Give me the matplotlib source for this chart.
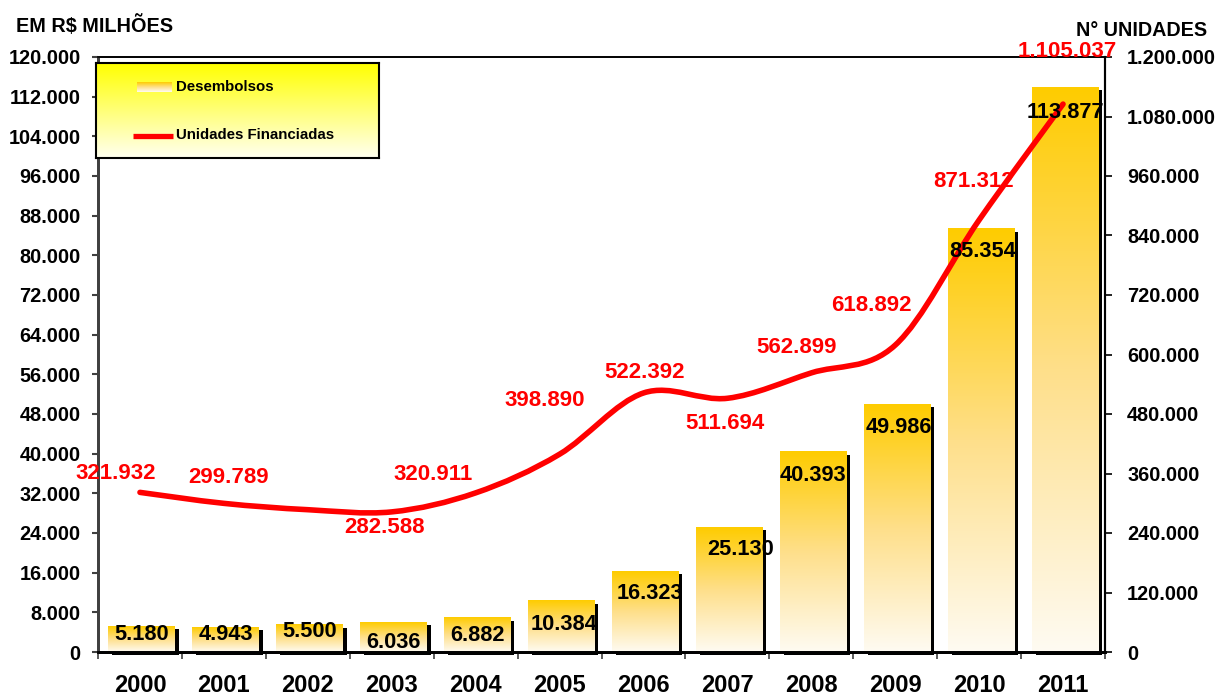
import numpy as np
import matplotlib
matplotlib.use('Agg')
import matplotlib.pyplot as plt
import matplotlib.transforms as mtransforms
from matplotlib.colors import LinearSegmentedColormap
from matplotlib.patches import Rectangle, PathPatch
from matplotlib.path import Path

plt.rcParams['font.family'] = ['Liberation Sans', 'DejaVu Sans']
plt.rcParams['font.weight'] = 'bold'

# dados
anos = ['2000', '2001', '2002', '2003', '2004', '2005',
        '2006', '2007', '2008', '2009', '2010', '2011']
desembolsos = [5180, 4943, 5500, 6036, 6882, 10384,
               16323, 25130, 40393, 49986, 85354, 113877]
unidades = [321932, 299789, 287000, 282588, 320911, 398890,
            522392, 511694, 562899, 618892, 871312, 1105037]
y_ticks_esq = list(range(0, 120001, 8000))
y_ticks_dir = list(range(0, 1200001, 120000))

# posicoes dos rotulos (pixels, relativos ao ponto / topo da barra)
bar_lbl_dx = [0, 0, 0, 0, 0, 3, 5, 12, 0, 2, 2, 1]
bar_lbl_dy = [-8, -7, -7, -20, -18, -24, -22, -22, -24, -23, -23, -25]
line_lbl_off = [(-24, 19), (5, 26), None, (-7, -16), (-43, 18), (-15, 54),
                (1, 20), (-2, -25), (-15, 25), (-24, 40), (-6, 38), (4, 53)]


def fmt(v):
    return f"{v:,}".replace(',', '.')


W, H = 1217, 695
fig = plt.figure(figsize=(W / 100, H / 100), dpi=100)
ax = fig.add_axes([98 / W, 1 - 652 / H, (1105 - 98) / W, (652 - 57) / H])
ax2 = ax.twinx()

gold = LinearSegmentedColormap.from_list(
    'gold', ['#FFFBF2', '#FEDF8A', '#FFCC00'])
grad = np.linspace(0, 1, 256).reshape(-1, 1)

x = np.arange(len(anos))
w = 0.79
shadow_tr = mtransforms.offset_copy(ax.transData, fig=fig, x=4, y=-3, units='dots')
for i, v in enumerate(desembolsos):
    xc = x[i] + 0.02
    ax.add_patch(Rectangle((xc - w / 2, 0), w, v, facecolor='black',
                           edgecolor='none', transform=shadow_tr,
                           zorder=1.5, clip_on=False))
    ax.imshow(grad, extent=[xc - w / 2, xc + w / 2, 0, v], origin='lower',
              aspect='auto', cmap=gold, zorder=2, interpolation='bilinear')

ax.set_xlim(-0.5, len(anos) - 0.5)
ax.set_ylim(0, 120000)
ax2.set_ylim(0, 1200000)

# linha suavizada (bezier tipo catmull-rom)
pts = np.column_stack([x, unidades]).astype(float)
verts = [pts[0]]
codes = [Path.MOVETO]
n = len(pts)
for i in range(n - 1):
    p0 = pts[i - 1] if i > 0 else pts[i]
    p1, p2 = pts[i], pts[i + 1]
    p3 = pts[i + 2] if i + 2 < n else pts[i + 1]
    verts += [p1 + (p2 - p0) / 6, p2 - (p3 - p1) / 6, p2]
    codes += [Path.CURVE4] * 3
ax2.add_patch(PathPatch(Path(verts, codes), facecolor='none', edgecolor='#FF0000',
                        lw=4.0, capstyle='round', zorder=3))

for i, v in enumerate(unidades):
    if line_lbl_off[i] is None:
        continue
    ax2.annotate(fmt(v), (x[i], v), xytext=line_lbl_off[i], textcoords='offset pixels',
                 ha='center', va='center', color='#FF0000', fontsize=16,
                 fontweight='bold', zorder=5, annotation_clip=False)

for i, v in enumerate(desembolsos):
    ax2.annotate(fmt(v), (x[i] + 0.02, v), xycoords=ax.transData,
                 xytext=(bar_lbl_dx[i], bar_lbl_dy[i]), textcoords='offset pixels',
                 ha='center', va='center', color='black', fontsize=15.7,
                 fontweight='bold', zorder=6)

# eixos
ax.set_yticks(y_ticks_esq)
ax.set_yticklabels([fmt(t) for t in y_ticks_esq])
ax2.set_yticks(y_ticks_dir)
ax2.set_yticklabels([fmt(t) for t in y_ticks_dir])
ax.set_xticks(np.arange(-0.5, len(anos), 1))
ax.set_xticklabels([])
ax.set_xticks(x, minor=True)
ax.set_xticklabels(anos, minor=True)

ax.tick_params(axis='y', direction='out', length=4.5, width=1.5, color='#404040',
               pad=8, labelsize=14.3)
ax2.tick_params(axis='y', direction='out', length=5, width=1.2, color='black',
                pad=11, labelsize=14.3)
ax.tick_params(axis='x', which='major', direction='out', length=5, width=1.2,
               color='#404040')
ax.tick_params(axis='x', which='minor', length=0, pad=16, labelsize=17)
for lbl in ax.get_yticklabels() + ax2.get_yticklabels() + ax.get_xticklabels(minor=True):
    lbl.set_fontweight('bold')

for a in (ax, ax2):
    a.spines['left'].set_color('#404040')
    a.spines['left'].set_linewidth(2)
    a.spines['bottom'].set_color('black')
    a.spines['bottom'].set_linewidth(2)
    a.spines['top'].set_color('black')
    a.spines['top'].set_linewidth(1.2)
    a.spines['right'].set_color('black')
    a.spines['right'].set_linewidth(1.5)

fig.text(16 / W, 1 - 32 / H, 'EM R$ MILHÕES', fontsize=14.3, fontweight='bold',
         ha='left', va='baseline')
fig.text(1207 / W, 1 - 36 / H, 'N° UNIDADES', fontsize=14.2, fontweight='bold',
         ha='right', va='baseline')

# legenda
lg = fig.add_axes([96 / W, 1 - 158 / H, (379 - 96) / W, (158 - 63) / H], zorder=10)
yellow = LinearSegmentedColormap.from_list('yel', ['#FFFFF0', '#FFFF00'])
lg.imshow(grad, extent=[0, 283, 95, 0], origin='lower', aspect='auto', cmap=yellow)
lg.imshow(grad, extent=[41, 76, 29, 19], origin='lower', aspect='auto', cmap=gold)
lg.plot([37, 77], [73, 73], color='#FF0000', lw=3.8, solid_capstyle='butt')
lg.text(80, 24, 'Desembolsos', fontsize=10.8, fontweight='bold', va='center', ha='left')
lg.text(80, 72, 'Unidades Financiadas', fontsize=10.8, fontweight='bold',
        va='center', ha='left')
lg.set_xlim(0, 283)
lg.set_ylim(95, 0)
lg.set_xticks([])
lg.set_yticks([])
for s in lg.spines.values():
    s.set_color('black')
    s.set_linewidth(1.5)

fig.savefig('out.png', dpi=100)
